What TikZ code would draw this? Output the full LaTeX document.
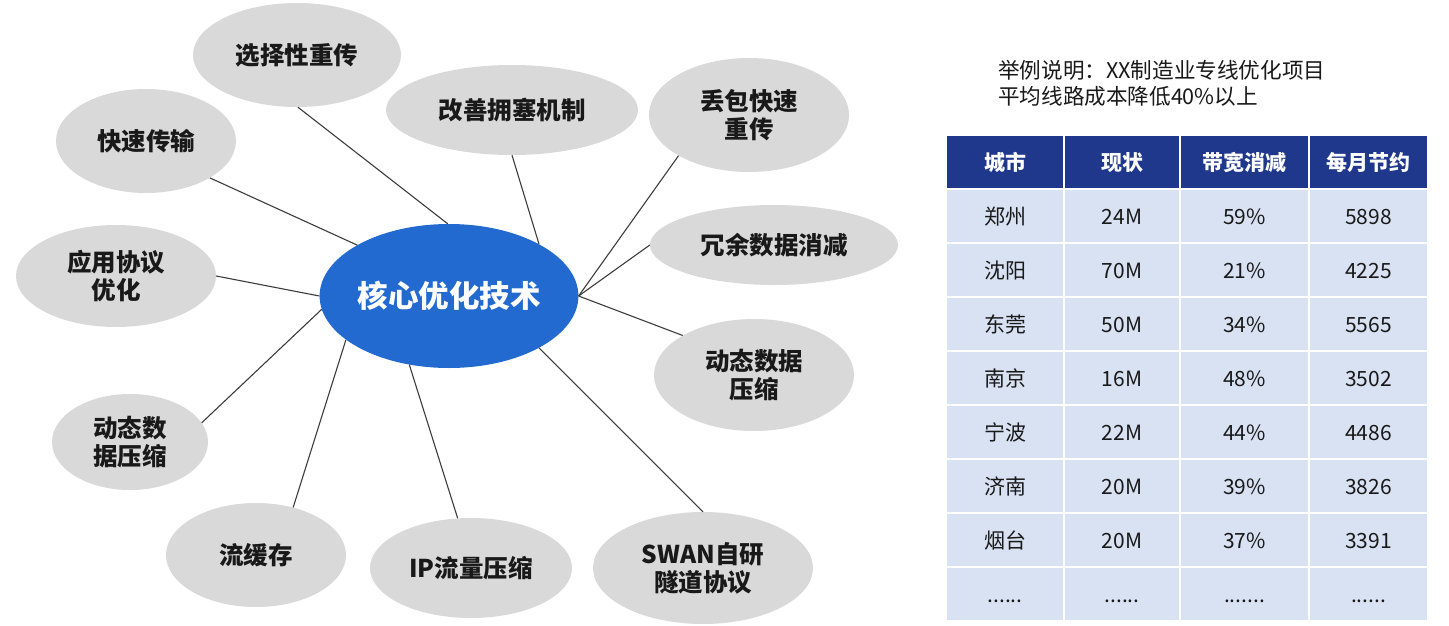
\documentclass[tikz,border=0pt]{standalone}
\usepackage{fontspec}
\setmainfont{Noto Sans CJK SC}
\usetikzlibrary{shapes.geometric}
\definecolor{bubble}{RGB}{217,217,217}
\definecolor{coreblue}{RGB}{35,106,208}
\definecolor{navy}{RGB}{31,56,140}
\definecolor{rowblue}{RGB}{217,226,243}
\definecolor{linkgray}{RGB}{60,60,60}
\definecolor{txt}{RGB}{25,25,25}
\newcommand{\sixdots}{......}
\newcommand{\sevendots}{.......}
\begin{document}
\begin{tikzpicture}[x=1pt,y=-1pt,
  bub/.style={ellipse, fill=bubble, inner sep=0pt, align=center, text=txt,
    font=\fontsize{24.5}{28}\selectfont\bfseries},
  corenode/.style={ellipse, fill=coreblue, inner sep=0pt, text=white,
    font=\fontsize{30.5}{36}\selectfont\bfseries},
  link/.style={draw=linkgray, line width=1.1pt},
  cellbase/.style={rectangle, inner sep=0pt, minimum height=52pt, text height=20.5pt, text depth=3pt},
  hcell/.style={cellbase, fill=navy, text=white, font=\fontsize{21}{25}\selectfont\bfseries},
  bcell/.style={cellbase, fill=rowblue, text=txt, font=\fontsize{21}{25}\selectfont},
  colA/.style={minimum width=116pt},
  colB/.style={minimum width=114pt},
  colC/.style={minimum width=127pt},
  colD/.style={minimum width=117pt},
  note/.style={anchor=west, align=left, text=txt, inner sep=0pt, font=\fontsize{21.6}{26}\selectfont}
]
\useasboundingbox[fill=white] (0,0) rectangle (1449,626);

% core
\node[corenode, minimum width=254pt, minimum height=144pt] (core) at (449,296) {核心优化技术};

% bubbles
\node[bub, minimum width=208pt, minimum height=104pt] (sel) at (297,55) {选择性重传};
\node[bub, minimum width=252pt, minimum height=90pt] (cong) at (512,110) {改善拥塞机制};
\node[bub, minimum width=200pt, minimum height=114pt] (drop) at (749,115) {丢包快速\\重传};
\node[bub, minimum width=248pt, minimum height=80pt] (red) at (774,245) {冗余数据消减};
\node[bub, minimum width=200pt, minimum height=112pt] (dynR) at (754,375) {动态数据\\压缩};
\node[bub, minimum width=220pt, minimum height=112pt] (swan) at (703,568) {SWAN自研\\隧道协议};
\node[bub, minimum width=202pt, minimum height=100pt] (ip) at (471,568) {IP流量压缩};
\node[bub, minimum width=180pt, minimum height=104pt] (cache) at (256,555) {流缓存};
\node[bub, minimum width=156pt, minimum height=96pt] (dynL) at (130,442) {动态数\\据压缩};
\node[bub, minimum width=200pt, minimum height=102pt] (app) at (116,276) {应用协议\\优化};
\node[bub, minimum width=180pt, minimum height=104pt] (fast) at (146,141) {快速传输};

% connectors
\draw[link] (sel.271) -- (core.91);
\draw[link] (fast.330) -- (core.151);
\draw[link] (app.east) -- (core.west);
\draw[link] (dynL.15) -- (core.186);
\draw[link] (cache.52) -- (core.203);
\draw[link] (ip.105) -- (core.240);
\draw[link] (swan.north) -- (core.330);
\draw[link] (dynR.151) -- (core.east);
\draw[link] (red.west) -- (core.east);
\draw[link] (drop.210) -- (core.east);
\draw[link] (cong.south) -- (core.30);

% note
\node[note] (title) at (998,83) {举例说明：XX制造业专线优化项目\\平均线路成本降低40\%以上};

% table header
\node[hcell, colA] (h1) at (1005,162) {城市};
\node[hcell, colB] (h2) at (1122,162) {现状};
\node[hcell, colC] (h3) at (1244.5,162) {带宽消减};
\node[hcell, colD] (h4) at (1368.5,162) {每月节约};

% table body
\foreach \r/\a/\b/\c/\d in {1/郑州/24M/59\%/5898, 2/沈阳/70M/21\%/4225, 3/东莞/50M/34\%/5565,
  4/南京/16M/48\%/3502, 5/宁波/22M/44\%/4486, 6/济南/20M/39\%/3826, 7/烟台/20M/37\%/3391,
  8/\sixdots/\sixdots/\sevendots/\sixdots}{
  \node[bcell, colA] (r\r c1) at (1005,{216+54*(\r-1)}) {\a};
  \node[bcell, colB] (r\r c2) at (1122,{216+54*(\r-1)}) {\b};
  \node[bcell, colC] (r\r c3) at (1244.5,{216+54*(\r-1)}) {\c};
  \node[bcell, colD] (r\r c4) at (1368.5,{216+54*(\r-1)}) {\d};
}
\end{tikzpicture}
\end{document}
